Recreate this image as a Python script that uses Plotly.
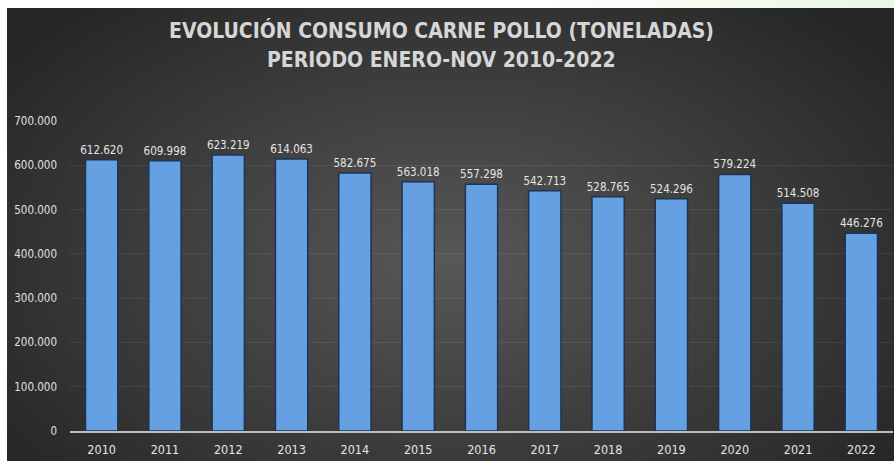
import base64
import struct
import zlib

import numpy as np
import plotly.graph_objects as go

# Chicken meat consumption, January-November, tonnes
years = ["2010", "2011", "2012", "2013", "2014", "2015", "2016",
         "2017", "2018", "2019", "2020", "2021", "2022"]
tonnes = [612620, 609998, 623219, 614063, 582675, 563018, 557298,
          542713, 528765, 524296, 579224, 514508, 446276]
y_ticks = [0, 100000, 200000, 300000, 400000, 500000, 600000, 700000]

W, H = 894, 461
ML, MR, MT, MB = 70, 1, 121, 30


def png_data_uri(rgb):
    """Encode an HxWx3 uint8 array as a PNG data URI."""
    h, w, _ = rgb.shape
    raw = b"".join(b"\x00" + rgb[r].tobytes() for r in range(h))

    def chunk(tag, data):
        c = struct.pack(">I", len(data)) + tag + data
        return c + struct.pack(">I", zlib.crc32(tag + data) & 0xFFFFFFFF)

    png = b"\x89PNG\r\n\x1a\n"
    png += chunk(b"IHDR", struct.pack(">IIBBBBB", w, h, 8, 2, 0, 0, 0))
    png += chunk(b"IDAT", zlib.compress(raw, 9))
    png += chunk(b"IEND", b"")
    return "data:image/png;base64," + base64.b64encode(png).decode()


# Dark radial-gradient backdrop with a thin light border at top/left
yy, xx = np.mgrid[0:H, 0:W].astype(float)
d = np.sqrt(((xx - 450) / 560) ** 2 + ((yy - 260) / 340) ** 2)
t = np.clip(d, 0, 1)
inner = np.array([0x58, 0x58, 0x58], float)
outer = np.array([0x26, 0x26, 0x26], float)
img = inner[None, None, :] * (1 - t[..., None]) + outer[None, None, :] * t[..., None]
img[:8, :, :] = 255
img[:, :7, :] = 255
# faint green tint in the top-right strip
g = np.clip((xx[:8, :] - 550) / 344, 0, 1)
img[:8, :, 0] = 255 - 20 * g
img[:8, :, 1] = 255 - 8 * g
img[:8, :, 2] = 255 - 28 * g
bg_uri = png_data_uri(img.astype(np.uint8))

pw = W - ML - MR
ph = H - MT - MB

narrow = "DejaVu Sans Condensed, sans-serif"
label_font = dict(family=narrow, size=11.5, color="#e4e4e4")
title_font = dict(family="DejaVu Sans Condensed, sans-serif",
                  size=21, color="#d6d6d6")

fig = go.Figure()
fig.add_trace(go.Bar(
    x=years,
    y=tonnes,
    marker=dict(color="#65a0e3", line=dict(color="#1e3452", width=1.5)),
    texttemplate="%{y:,.0f}",
    textposition="outside",
    constraintext="none",
    textfont=label_font,
    cliponaxis=False,
    hoverinfo="skip",
))

fig.update_layout(
    width=W,
    height=H,
    autosize=False,
    margin=dict(l=ML, r=MR, t=MT, b=MB),
    paper_bgcolor="#ffffff",
    plot_bgcolor="rgba(0,0,0,0)",
    separators=",.",
    bargap=0.49,
    showlegend=False,
    images=[dict(
        source=bg_uri,
        xref="paper", yref="paper",
        x=-ML / pw, y=1 + MT / ph,
        sizex=W / pw, sizey=H / ph,
        xanchor="left", yanchor="top",
        sizing="stretch", layer="below",
    )],
    annotations=[
        dict(text="<b>EVOLUCIÓN CONSUMO CARNE POLLO (TONELADAS)</b>",
             xref="paper", yref="paper",
             x=(441 - ML) / pw, y=1 + (MT - 30) / ph,
             xanchor="center", yanchor="middle", showarrow=False,
             font=title_font),
        dict(text="<b>PERIODO ENERO-NOV 2010-2022</b>",
             xref="paper", yref="paper",
             x=(441 - ML) / pw, y=1 + (MT - 60) / ph,
             xanchor="center", yanchor="middle", showarrow=False,
             font=title_font),
    ],
)

fig.update_xaxes(
    type="category",
    showgrid=False,
    showline=True,
    linecolor="#bdbdbd",
    linewidth=1.5,
    ticks="",
    ticklabelstandoff=6,
    tickfont=dict(family=narrow, size=12.5, color="#e4e4e4"),
)
fig.update_yaxes(
    range=[0, 700000],
    tickvals=y_ticks,
    tickformat=",.0f",
    showgrid=True,
    gridcolor="rgba(255,255,255,0.08)",
    gridwidth=1,
    zeroline=False,
    showline=False,
    ticks="",
    ticklabelstandoff=12,
    tickfont=dict(family=narrow, size=11.5, color="#e0e0e0"),
)

fig.write_html("out.html")
